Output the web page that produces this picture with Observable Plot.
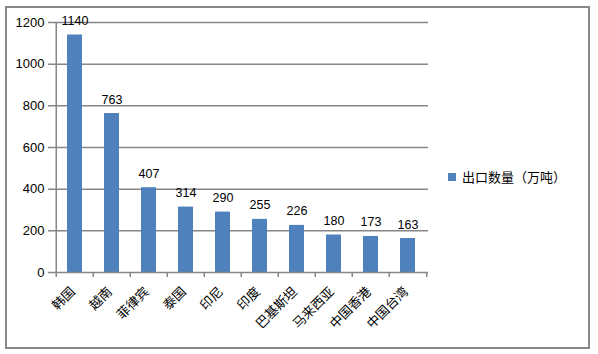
<!DOCTYPE html>
<html>
<head>
<meta charset="utf-8">
<script src="https://cdn.jsdelivr.net/npm/d3@7"></script>
<script src="https://cdn.jsdelivr.net/npm/@observablehq/plot@0.6"></script>
<style>
  html, body { margin: 0; padding: 0; background: #fff; }
  #wrap { position: relative; width: 598px; height: 354px; overflow: hidden; }
  #border { position: absolute; left: 5px; top: 6px; width: 581px; height: 339px; border: 2px solid #878787; box-sizing: content-box; }
  #chart { position: absolute; left: 0; top: 0; }
  #legend { position: absolute; left: 448px; top: 167px; font: 13px "Noto Sans CJK SC", sans-serif; color: #000; display: flex; align-items: center; white-space: nowrap; }
  #legend .sw { width: 8px; height: 8px; background: #4F81BD; margin-right: 6px; }
</style>
</head>
<body>
<div id="wrap">
  <div id="border"></div>
  <div id="chart"></div>
  <div id="legend"><span class="sw"></span><span>出口数量（万吨）</span></div>
</div>
<script>
const categories = ["韩国", "越南", "菲律宾", "泰国", "印尼", "印度", "巴基斯坦", "马来西亚", "中国香港", "中国台湾"];
const values = [1140, 763, 407, 314, 290, 255, 226, 180, 173, 163];
const yTicks = [0, 200, 400, 600, 800, 1000, 1200];
const seriesName = "出口数量（万吨）";

const data = categories.map((c, i) => ({country: c, value: values[i]}));

const W = 598, H = 354;
const mL = 53, mR = 170, mT = 22, mB = 82;
const step = (W - mL - mR) / categories.length;
const grey = "#868686";

const chart = Plot.plot({
  width: W,
  height: H,
  marginLeft: mL,
  marginRight: mR,
  marginTop: mT,
  marginBottom: mB,
  style: {fontFamily: "'Liberation Sans', Arial, sans-serif", fontSize: "12px", background: "transparent", overflow: "visible"},
  x: {domain: categories, paddingInner: 0.6, paddingOuter: 0.3, axis: null},
  y: {domain: [0, 1200], ticks: yTicks, axis: null},
  marks: [
    Plot.ruleY(yTicks.filter(d => d > 0), {stroke: grey, strokeWidth: 1.5, insetLeft: -5}),
    Plot.barY(data, {x: "country", y: "value", fill: "#4F81BD"}),
    Plot.ruleX([categories[0]], {dx: -step / 2, y1: 0, y2: 1200, stroke: grey, strokeWidth: 1.5}),
    Plot.ruleY([0], {stroke: grey, strokeWidth: 1.5, insetLeft: -5}),
    Plot.ruleX(categories, {dx: -step / 2, y1: 0, y2: -24, stroke: grey, strokeWidth: 1.5}),
    Plot.ruleX([categories[categories.length - 1]], {dx: step / 2, y1: 0, y2: -24, stroke: grey, strokeWidth: 1.5}),
    Plot.text(yTicks, {y: d => d, text: d => String(d), frameAnchor: "left", textAnchor: "end", dx: -9, fontSize: 13, fill: "#000"}),
    Plot.text(data, {x: "country", y: "value", text: d => String(d.value), lineAnchor: "bottom", dy: -10, fontSize: 12.5, fill: "#000"}),
    Plot.text(categories, {x: d => d, text: d => d, frameAnchor: "bottom", rotate: -45, textAnchor: "end", lineAnchor: "middle", dx: -2, dy: 17, fontSize: 13, fontFamily: "'Noto Sans CJK SC', sans-serif", fill: "#000"})
  ]
});
document.getElementById("chart").appendChild(chart);
</script>
</body>
</html>
